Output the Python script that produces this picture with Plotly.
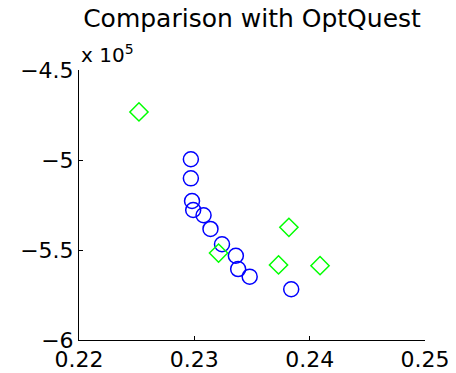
import plotly.graph_objects as go

# Blue circles (our method)
blue_x = [0.2297, 0.2297, 0.2298, 0.2299, 0.2308, 0.2314, 0.2324, 0.2336, 0.2338, 0.2348, 0.2384]
blue_y = [-4.996, -5.102, -5.228, -5.278, -5.307, -5.383, -5.468, -5.532, -5.606, -5.648, -5.718]  # x 10^5

# Green diamonds (OptQuest)
green_x = [0.2252, 0.2321, 0.2382, 0.2373, 0.2409]
green_y = [-4.733, -5.517, -5.374, -5.583, -5.587]  # x 10^5

x_ticks = [0.22, 0.23, 0.24, 0.25]
y_ticks = [-6, -5.5, -5, -4.5]

FONT = "DejaVu Sans"

# page body has an 8px default margin, so figure is sized/offset accordingly
W, H = 448, 365

fig = go.Figure()
fig.add_trace(go.Scatter(
    x=blue_x, y=blue_y, mode="markers",
    marker=dict(symbol="circle-open", size=15, color="#0000FF",
                line=dict(width=1.5, color="#0000FF")),
    showlegend=False))
fig.add_trace(go.Scatter(
    x=green_x, y=green_y, mode="markers",
    marker=dict(symbol="diamond-open", size=14, color="#00FF00",
                line=dict(width=1.5, color="#00FF00")),
    showlegend=False))

fig.update_layout(
    width=W, height=H,
    margin=dict(l=71, r=31, t=62, b=33),
    paper_bgcolor="white", plot_bgcolor="white",
    font=dict(family=FONT, size=22, color="black"),
    title=dict(text="Comparison with OptQuest", x=(252 - 8) / W, xanchor="center",
               y=1 - 10 / H, yanchor="middle", yref="container", automargin=False,
               font=dict(family=FONT, size=25, color="black")),
    xaxis=dict(range=[0.22, 0.25], tickvals=x_ticks, ticktext=[f"{v:.2f}" for v in x_ticks],
               showgrid=False, zeroline=False, showline=True, linecolor="black", linewidth=1,
               ticks="inside", ticklen=4, tickcolor="black", mirror=False, automargin=False,
               tickfont=dict(family=FONT, size=22)),
    yaxis=dict(range=[-6, -4.5], tickvals=y_ticks,
               ticktext=["\u22126", "\u22125.5", "\u22125", "\u22124.5"],
               showgrid=False, zeroline=False, showline=True, linecolor="black", linewidth=1,
               ticks="inside", ticklen=4, tickcolor="black", mirror=False, automargin=False,
               tickfont=dict(family=FONT, size=22)),
    annotations=[dict(text="x 10<sup>5</sup>", xref="paper", yref="paper",
                      x=0, xanchor="left", y=1 + 16 / 270, yanchor="middle",
                      showarrow=False, font=dict(family=FONT, size=20, color="black"))],
)

fig.write_html("out.html")
